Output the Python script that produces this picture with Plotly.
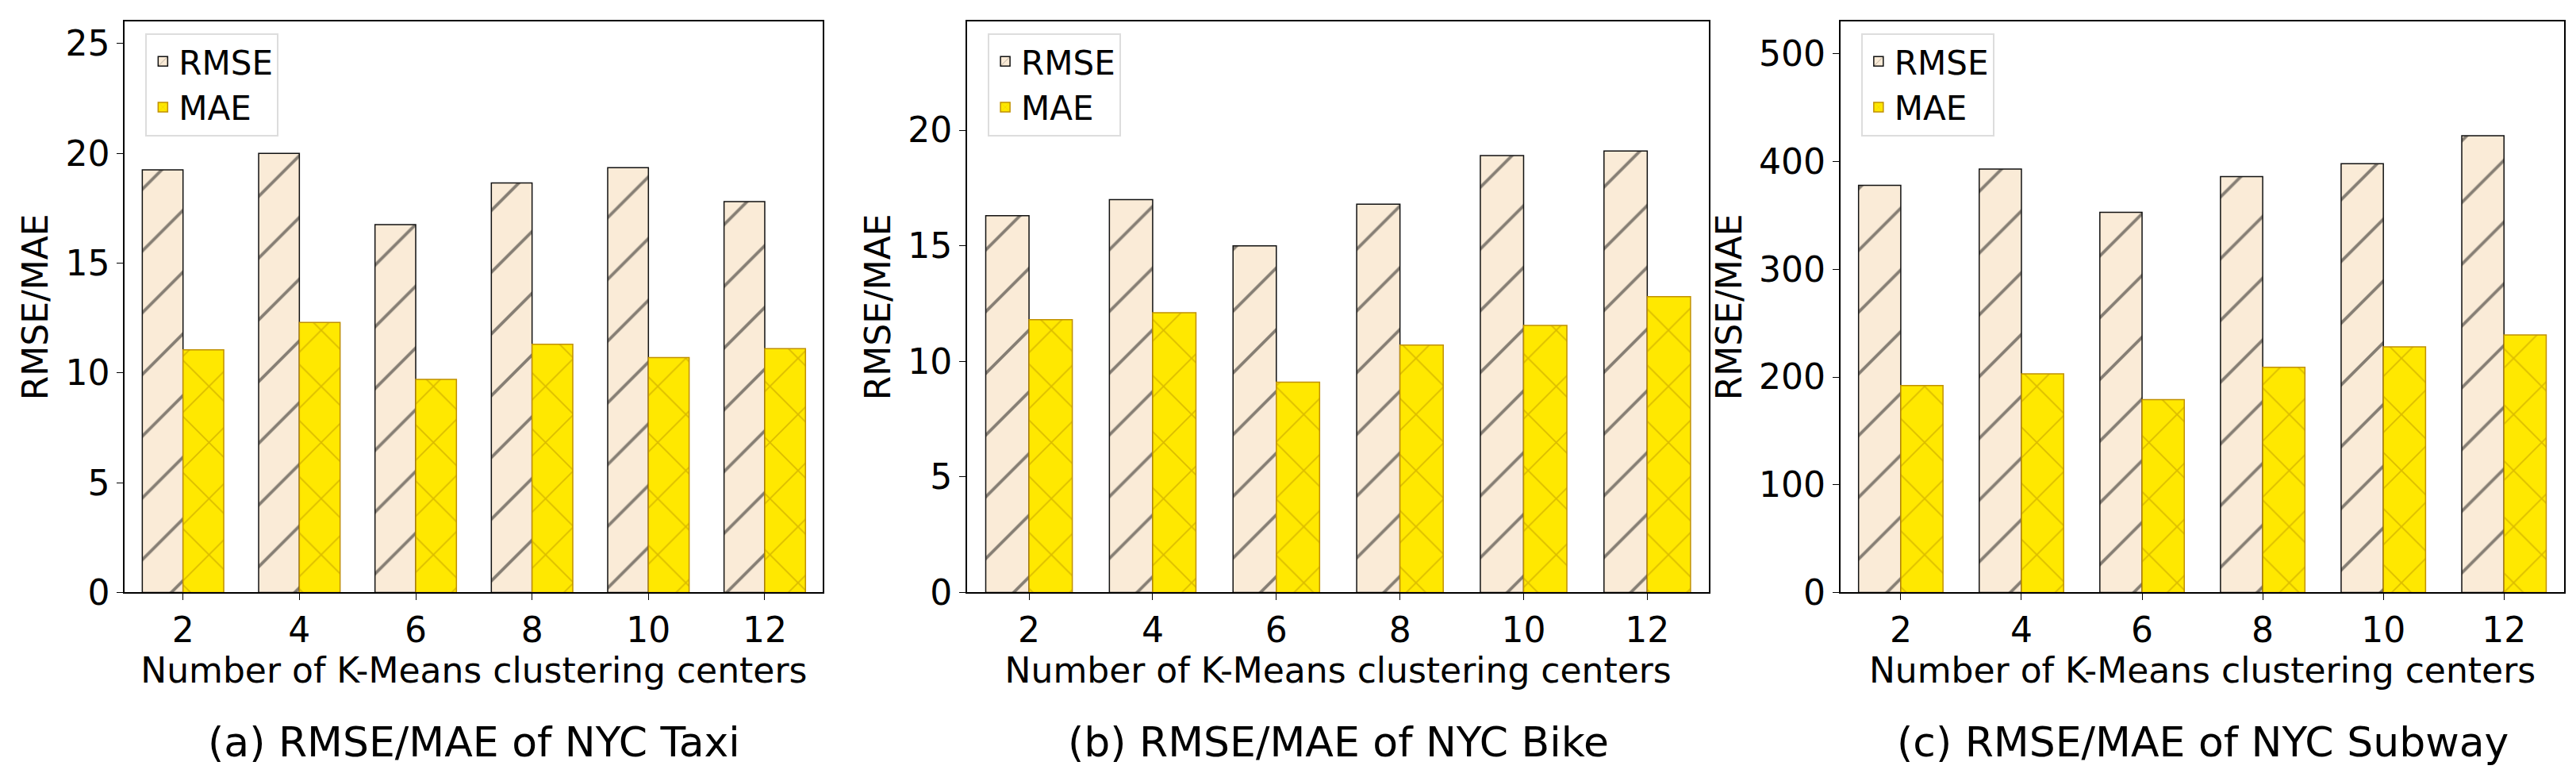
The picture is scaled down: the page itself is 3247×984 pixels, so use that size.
import plotly.graph_objects as go

centers = ["2", "4", "6", "8", "10", "12"]
taxi_rmse = [19.25, 20.0, 16.75, 18.65, 19.35, 17.8]
taxi_mae = [11.05, 12.3, 9.7, 11.3, 10.7, 11.1]
bike_rmse = [16.3, 17.0, 15.0, 16.8, 18.9, 19.1]
bike_mae = [11.8, 12.1, 9.1, 10.7, 11.55, 12.8]
subway_rmse = [378, 393, 353, 386, 398, 424]
subway_mae = [192, 203, 179, 209, 228, 239]

panels = [
    ("(a) RMSE/MAE of NYC Taxi", taxi_rmse, taxi_mae, [0, 26], 5, [0.046, 0.317]),
    ("(b) RMSE/MAE of NYC Bike", bike_rmse, bike_mae, [0, 24.7], 5, [0.373, 0.661]),
    ("(c) RMSE/MAE of NYC Subway", subway_rmse, subway_mae, [0, 530], 100, [0.712, 0.993]),
]

F = "DejaVu Sans"
fig = go.Figure()
for i, (title, rmse, mae, yr, dt, dom) in enumerate(panels):
    n = "" if i == 0 else str(i + 1)
    lg = "legend" + n
    fig.add_trace(go.Bar(x=centers, y=rmse, name="RMSE", legend=lg, xaxis="x" + n, yaxis="y" + n,
                         marker=dict(color="#faebd7", line=dict(color="#111", width=1.5),
                                     pattern=dict(shape="/", fgcolor="#111", size=55, solidity=0.07))))
    fig.add_trace(go.Bar(x=centers, y=mae, name="MAE", legend=lg, xaxis="x" + n, yaxis="y" + n,
                         marker=dict(color="#ffe800", line=dict(color="#c09000", width=1.5),
                                     pattern=dict(shape="x", fgcolor="#b89000", size=50, solidity=0.07))))
    fig.update_layout({
        "xaxis" + n: dict(domain=dom, anchor="y" + n, showline=True, mirror=True, linecolor="black",
                          linewidth=2, ticks="outside", ticklen=8, tickcolor="black",
                          tickfont=dict(size=44, family=F, color="black"),
                          title=dict(text="Number of K-Means clustering centers",
                                     font=dict(size=44, family=F, color="black"), standoff=5)),
        "yaxis" + n: dict(domain=[0.23, 0.98], anchor="x" + n, range=yr, dtick=dt, showline=True, mirror=True,
                          linecolor="black", linewidth=2, ticks="outside", ticklen=8, tickcolor="black",
                          showgrid=False, zeroline=False, tickfont=dict(size=44, family=F, color="black"),
                          title=dict(text="RMSE/MAE", font=dict(size=44, family=F, color="black"), standoff=8)),
        lg: dict(x=dom[0] + 0.008, y=0.965, xanchor="left", yanchor="top", bgcolor="white",
                 bordercolor="#ddd", borderwidth=2, font=dict(size=42, family=F, color="black")),
    })
    fig.add_annotation(text=title, x=(dom[0] + dom[1]) / 2, y=0.0, xref="paper", yref="paper",
                       xanchor="center", yanchor="bottom", showarrow=False,
                       font=dict(size=52, family=F, color="black"))

fig.update_layout(width=3247, height=984, barmode="group", bargap=0.3, bargroupgap=0,
                  plot_bgcolor="white", paper_bgcolor="white",
                  margin=dict(l=0, r=0, t=0, b=15))
fig.write_html("out.html")
